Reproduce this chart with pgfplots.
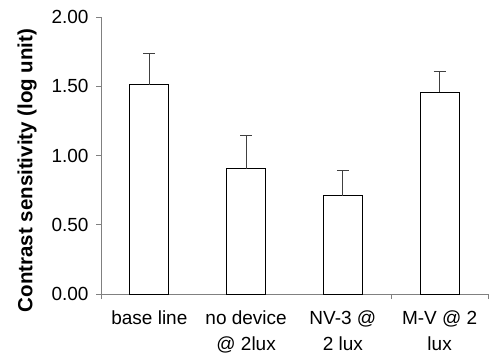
\documentclass[border=0pt]{standalone}
\usepackage{fontspec}
\setmainfont{Liberation Sans}
\usepackage{pgfplots}
\pgfplotsset{compat=1.18}
\definecolor{axgray}{RGB}{128,128,128}
\definecolor{errgray}{RGB}{64,64,64}
\begin{document}
\begin{tikzpicture}
\begin{axis}[
  name=ax,
  scale only axis,
  width=387bp, height=277bp,
  xmin=0, xmax=4, ymin=0, ymax=2,
  axis x line*=bottom, axis y line*=left,
  axis line style={axgray, line width=0.9pt},
  ytick={0,0.5,1,1.5,2},
  /pgf/number format/assume math mode=true,
  yticklabel style={/pgf/number format/fixed, /pgf/number format/fixed zerofill, /pgf/number format/precision=2},
  yticklabel style={font=\fontsize{19bp}{22bp}\selectfont, xshift=-4bp},
  xtick={0.5,1.5,2.5,3.5},
  xticklabels={base line, no device\\@ 2lux, NV-3 @\\2 lux, M-V @ 2\\lux},
  xticklabel style={font=\fontsize{19bp}{26bp}\selectfont, align=center, anchor=north, yshift=-8bp},
  xtick style={draw=none},
  ytick style={axgray, line width=0.9pt},
  tick align=outside,
  major tick length=5bp,
  extra x ticks={0,3,4},
  extra x tick labels={},
  extra x tick style={xtick style={axgray, line width=0.9pt, draw=axgray}},
  ylabel={\bfseries Contrast sensitivity (log unit)},
  every axis y label/.style={at={(axis description cs:-0.191,0.446)}, rotate=90, anchor=center, font=\fontsize{20.5bp}{24bp}\selectfont},
  clip=false,
]
\addplot[ybar, bar width=39bp, draw=black, fill=white, line width=0.9pt,
  error bars/.cd, y dir=plus, y explicit,
  error bar style={errgray, line width=1pt},
  error mark options={rotate=90, mark size=6bp, errgray, line width=1pt}]
  coordinates {
    (0.5,1.51) +- (0,0.23)
    (1.5,0.905) +- (0,0.243)
    (2.5,0.708) +- (0,0.182)
    (3.5,1.458) +- (0,0.147)
  };
\end{axis}
\pgfresetboundingbox
\path[use as bounding box] ([shift={(-101bp,-66bp)}]ax.south west) rectangle ([shift={(7bp,17bp)}]ax.north east);
\end{tikzpicture}
\end{document}
